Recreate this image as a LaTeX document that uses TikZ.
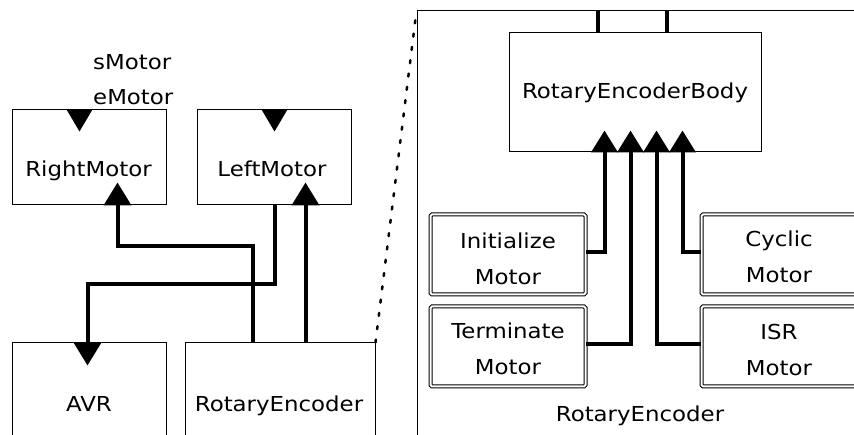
\documentclass[tikz,border=0pt]{standalone}
\usepackage{fontspec}
\setmainfont{DejaVu Sans}[FakeStretch=1.11]
\usetikzlibrary{arrows.meta,calc}
\begin{document}
\begin{tikzpicture}[x=1pt,y=-1pt,
  font=\fontsize{20.6}{36}\selectfont,
  box/.style={draw,line width=1pt,inner sep=0pt},
  dbox/.style={draw,double,line width=1pt,double distance=2pt,inner sep=0pt,minimum width=155pt,minimum height=80pt,rounded corners=1.5pt},
  txt/.style={inner sep=0pt},
  conn/.style={line width=4pt},
  tipa/.style={-{Triangle[width=27pt,length=23pt]},shorten >=-23pt},
  tipb/.style={-{Triangle[width=26pt,length=22pt]},shorten >=-22pt},
  dotline/.style={line width=2.5pt,dash pattern=on 3pt off 10.4pt,line cap=round}]
\useasboundingbox (0,0) rectangle (854,435);
\clip (0,0) rectangle (854,435);
\fill[white] (0,0) rectangle (854,435);

% left side boxes
\node[box,minimum width=154pt,minimum height=95pt] (rm) at (89,157.5) {};
\node[txt,anchor=base] (rmt) at (88.5,177) {RightMotor};
\node[box,minimum width=154pt,minimum height=95pt] (lm) at (274,157.5) {};
\node[txt,anchor=base] (lmt) at (272,177) {LeftMotor};
\node[box,minimum width=154pt,minimum height=120pt] (avr) at (89,403) {};
\node[txt,anchor=base] (avrt) at (89,412) {AVR};
\node[box,minimum width=190pt,minimum height=120pt] (re) at (280,403) {};
\node[txt,anchor=base] (ret) at (279,412) {RotaryEncoder};

\node[txt,anchor=base west] (sm) at (93,70) {sMotor};
\node[txt,anchor=base west] (em) at (93,105) {eMotor};

% port triangles in motor tops
\fill ($(rm.north west)+(55,0)$) -- ++(26,0) -- ++(-13,22) -- cycle;
\fill ($(lm.north west)+(65,0)$) -- ++(26,0) -- ++(-13,22) -- cycle;

% left connectors
\draw[conn,tipa] ($(re.north west)+(68,0)$) -- ++(0,-96) -| ($(rm.south west)+(106,0)$);
\draw[conn,tipa] ($(lm.south west)+(78,0)$) -- ++(0,79) -| ($(avr.north west)+(76,0)$);
\draw[conn,tipa] ($(re.north west)+(121,0)$) -- ($(lm.south west)+(109,0)$);

% right side (expanded RotaryEncoder)
\node[box,minimum width=483pt,minimum height=459pt] (big) at (658.5,240.5) {};
\draw[dotline] (re.north east) -- (big.north west);
\node[txt,anchor=base] (bigt) at (640,421) {RotaryEncoder};

\node[box,minimum width=252pt,minimum height=119pt] (body) at (635,92.5) {RotaryEncoderBody};
\draw[conn] ($(body.north west)+(89,0)$) -- (big.north -| {$(body.north west)+(89,0)$});
\draw[conn] ($(body.north west)+(158,0)$) -- (big.north -| {$(body.north west)+(158,0)$});

\node[dbox] (init) at (508,254.5) {};
\node[txt,align=center,anchor=north] (initt) at (508,232.3) {Initialize\\Motor};
\node[dbox] (term) at (508,346.5) {};
\node[txt,align=center,anchor=north] (termt) at (508,322.3) {Terminate\\Motor};
\node[dbox] (cyc) at (779,254.5) {};
\node[txt,align=center,anchor=north] (cyct) at (779,230.3) {Cyclic\\Motor};
\node[dbox] (isr) at (779,346.5) {};
\node[txt,align=center,anchor=north] (isrt) at (779,323.7) {ISR\\Motor};

\draw[conn,tipb] ([yshift=2.5pt]init.east) -| ($(body.south west)+(96,0)$);
\draw[conn,tipb] ([yshift=2.5pt]term.east) -| ($(body.south west)+(122,0)$);
\draw[conn,tipb] ([yshift=2.5pt]isr.west) -| ($(body.south west)+(148,0)$);
\draw[conn,tipb] ([yshift=2.5pt]cyc.west) -| ($(body.south west)+(174,0)$);
\end{tikzpicture}
\end{document}
